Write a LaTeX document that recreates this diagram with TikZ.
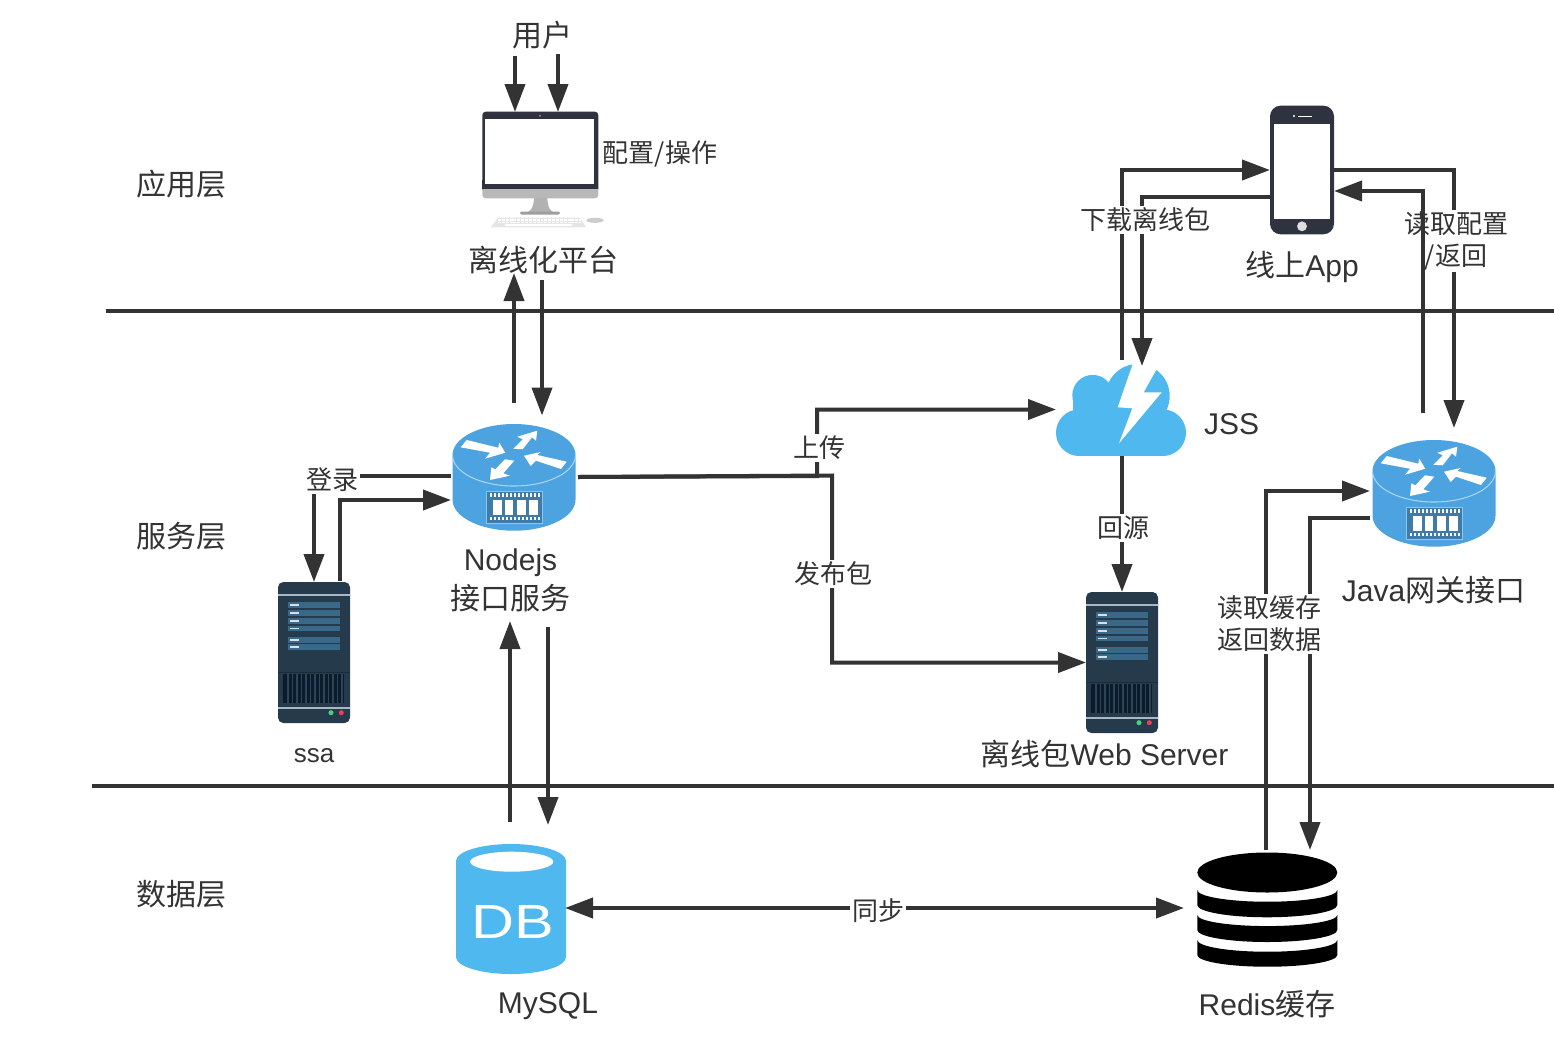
\documentclass[tikz,border=0pt]{standalone}
\usepackage{fontspec}
\setmainfont{Liberation Sans}
\newfontfamily\cjk{Noto Sans CJK SC}
\usetikzlibrary{arrows.meta}
\definecolor{ink}{HTML}{333333}
\definecolor{srvbody}{HTML}{253A4A}
\definecolor{srvbar}{HTML}{3A6888}
\definecolor{srvline}{HTML}{A9B8C6}
\definecolor{srvvent}{HTML}{0C1B2B}
\definecolor{srvgrill}{HTML}{2B4559}
\definecolor{routerblue}{HTML}{4DA3E0}
\definecolor{routerchip}{HTML}{3E7BA8}
\definecolor{routeredge}{HTML}{A8D5F2}
\definecolor{skyblue}{HTML}{4FB8EE}
\definecolor{devdark}{HTML}{2F3340}
\tikzset{
  x=0.75pt,y=-0.75pt,
  rulepath/.style={draw=ink,line width=3pt},
  conn/.style={draw=ink,line width=3pt,-{Triangle[length=21pt,width=15pt]}},
  connboth/.style={draw=ink,line width=3pt,{Triangle[length=21pt,width=15pt]}-{Triangle[length=21pt,width=15pt]}},
  bigtext/.style={text=ink,inner sep=0pt,align=center,font=\fontsize{22.5pt}{29pt}\selectfont},
  smalltext/.style={text=ink,inner sep=0pt,align=center,font=\fontsize{19.5pt}{24pt}\selectfont},
  edgetext/.style={smalltext,fill=white,inner sep=1.5pt},
  iconbox/.style n args={2}{inner sep=0pt,outer sep=0pt,minimum width=#1*0.75pt,minimum height=#2*0.75pt},
  pics/serverpic/.style={code={
    \fill[srvbody,rounded corners=4pt] (0,0) rectangle (72,141);
    \fill[srvline] (0,11.5) rectangle (72,13.5);
    \foreach \a/\b in {20/26,28/33.5,36/41.5,43.5/49,55/60.5,62/67.5}{
      \fill[srvbar] (10,\a) rectangle (62,\b);
      \fill[white!80!srvbar] (11.5,\a+2) rectangle (21,\a+3.8);
    }
    \fill[black!25!srvbody] (0,89.5) rectangle (72,91);
    \fill[srvvent] (5,92) rectangle (66,121);
    \foreach \g in {9,13.5,...,63}{\fill[srvgrill] (\g,92) rectangle (\g+1.6,121);}
    \fill[srvline] (0,124.5) rectangle (72,126.5);
    \fill[green!45!teal!70!white] (53,130.7) circle[radius=1.9pt];
    \fill[red!55!purple!75!white] (63.3,130.7) circle[radius=1.9pt];
  }},
  pics/routerpic/.style={code={
    \fill[routerblue] (-61.5,0) -- (-61.5,44.7) arc[start angle=180,end angle=360,x radius=46.125pt,y radius=23.25pt] -- (61.5,0) -- cycle;
    \fill[routerblue] (0,0) ellipse[x radius=46.125pt,y radius=23.25pt];
    \draw[routeredge,line width=0.8pt] (-61.5,0) arc[start angle=180,end angle=360,x radius=46.125pt,y radius=23.25pt];
    \fill[white] (-53.3,-7.7) -- (-47.3,-15) -- (-15.7,-7.3) -- (-14.7,-12.3) -- (-8.7,-2.3) -- (-29,3.7) -- (-24,-2.3) -- cycle;
    \fill[white] (-0.7,-6.3) -- (8.7,-15.7) -- (3.3,-18.3) -- (23.3,-24.3) -- (22,-14.3) -- (18,-17.7) -- (8.7,-5.7) -- cycle;
    \fill[white] (52.7,6.7) -- (47,14) -- (22,5.7) -- (16.7,11) -- (10,0.7) -- (26.7,-3) -- (23.3,0) -- cycle;
    \fill[white] (-9,4.3) -- (-18.7,14.3) -- (-22.7,12.3) -- (-24,25) -- (-4,20.7) -- (-10.7,18.3) -- (0.3,5.7) -- cycle;
    \filldraw[fill=routerchip,draw=routeredge!70!routerblue,line width=0.6pt] (-27.3,36) rectangle (28.7,68.3);
    \foreach \a/\b in {-21.3/-12.3,-9.3/-0.7,2.7/11.7,15/23.7}{\fill[white] (\a,45) rectangle (\b,60);}
    \draw[white,line width=2.4pt,dash pattern=on 2pt off 1pt] (-24.5,40) -- (26,40);
    \draw[white,line width=2.4pt,dash pattern=on 2pt off 1pt] (-24.5,63.3) -- (26,63.3);
  }}
}
\begin{document}
\begin{tikzpicture}
\useasboundingbox (0,0) rectangle (1554,1036);
% layer rules
\draw[rulepath] (106,311) -- (1554,311);
\draw[rulepath] (92,785.5) -- (1554,785.5);
% monitor
\fill[devdark,rounded corners=2.5pt] (482.3,111.7) rectangle (598.3,192);
\fill[black!28,rounded corners=2.5pt] (482.3,186) rectangle (598.3,198.3);
\fill[devdark] (482.3,180) rectangle (598.3,189);
\fill[white] (485.3,119) rectangle (593.7,184.3);
\fill[black!45] (540,115.7) circle[radius=0.8pt];
\fill[black!30] (534,198) -- (547.3,198) .. controls (547.5,205) and (549,210) .. (553,212) -- (528,212) .. controls (532,210) and (533.8,205) .. cycle;
\fill[black!38,rounded corners=1pt] (520,211.5) rectangle (560,214.5);
\fill[black!10] (498.3,217.7) -- (580,217.7) -- (586,227.3) -- (490.7,227.3) -- cycle;
\foreach \r in {219.7,222.3}{\draw[white,line width=1.2pt,dash pattern=on 2.2pt off 0.7pt] (498,\r) -- (581,\r);}
\draw[white,line width=1.2pt] (505,225) -- (572,225);
\fill[black!20] (595,220.3) ellipse[x radius=6.5pt,y radius=1.9pt];
% phone
\fill[devdark,rounded corners=8pt] (1270,105.7) rectangle (1334,234.3);
\fill[white] (1274,124) rectangle (1330,219);
\fill[white] (1294,116) circle[radius=0.9pt];
\draw[white,line width=0.6pt] (1298.3,116) -- (1311.7,116);
\fill[black!13] (1302,226.3) circle[radius=3.7pt];
% routers
\pic at (514,455) {routerpic};
\pic at (1434,471) {routerpic};
% cloud
\begin{scope}[skyblue]
\fill (1092.7,395.3) circle[radius=15.3pt];
\fill (1137.7,396) circle[radius=24pt];
\fill (1079.3,432.7) circle[radius=17.5pt];
\fill (1162.7,432.7) circle[radius=17.5pt];
\fill (1079.3,405) rectangle (1162.7,456);
\fill (1072.5,396) rectangle (1100,425);
\end{scope}
\fill[white] (1132.7,364) -- (1117.7,407.3) -- (1132.3,408.3) -- (1119,443.3) -- (1161.7,392.3) -- (1143.7,392.3) -- (1156.7,369) -- (1150,358) -- (1134,358) -- cycle;
% servers
\pic at (278,582) {serverpic};
\pic at (1086,592) {serverpic};
% database
\fill[skyblue] (456,861) -- (456,957) arc[start angle=180,end angle=360,x radius=41.25pt,y radius=12.75pt] -- (566,861) -- cycle;
\fill[skyblue] (511,861) ellipse[x radius=41.25pt,y radius=12.75pt];
\fill[white] (511.7,861.7) ellipse[x radius=31.2pt,y radius=7.5pt];
\node[text=white,inner sep=0pt,font=\fontsize{36pt}{36pt}\selectfont,xscale=1.24] (dbword) at (512.5,922) {DB};
% redis stack
\fill[black] (1267.3,872.5) ellipse[x radius=52.5pt,y radius=15pt];
\foreach \t/\d/\b/\e in {890/8.8/905/9.2,915/8.3/930/9,940/8.8/955/8.8}{
  \fill[black] (1197.3,\t) arc[start angle=180,end angle=360,x radius=52.5pt,y radius=\d pt] -- (1337.3,\b) arc[start angle=0,end angle=-180,x radius=52.5pt,y radius=\e pt] -- cycle;
}
% named boxes for the icons
\node[iconbox={116}{87}] (mon) at (540.3,155.5) {};
\node[iconbox={64}{128.6}] (phone) at (1302,170) {};
\node[iconbox={126}{107}] (rt) at (514,477.5) {};
\node[iconbox={126}{107}] (gw) at (1434,493) {};
\node[iconbox={130}{93}] (jss) at (1121,409.5) {};
\node[iconbox={72}{141}] (ssa) at (314,652.5) {};
\node[iconbox={72}{141}] (web) at (1122,662.5) {};
\node[iconbox={110}{128}] (db) at (510,908) {};
\node[iconbox={140}{114}] (rd) at (1267.3,909.7) {};
% free ends and bends
\coordinate (ua) at (515,56);
\coordinate (ub) at (558,54);
\coordinate (pfup) at (514,273);
\coordinate (pfdown) at (542,280);
\coordinate (rtup) at (514,403);
\coordinate (rtdown) at (542,415.5);
\coordinate (rta) at (451,476);
\coordinate (rtb) at (451,500);
\coordinate (ssab) at (340,581);
\coordinate (rtc) at (578,477);
\coordinate (upbend) at (817,476);
\coordinate (pubbend) at (832,475.5);
\coordinate (jssa) at (1122,360);
\coordinate (jssb) at (1142,366);
\coordinate (phb) at (1270,196.5);
\coordinate (phc) at (1334,191);
\coordinate (gwa) at (1454,428);
\coordinate (gwb) at (1423,413);
\coordinate (gwc) at (1370,491);
\coordinate (gwd) at (1370,518);
\coordinate (rda) at (1266,850);
\coordinate (rdb) at (1310,850);
\coordinate (rdc) at (1184,908);
\coordinate (dba) at (510,822);
\coordinate (dbb) at (548,825);
\coordinate (nja) at (510,621);
\coordinate (njb) at (548,627);
% connectors
\draw[conn] (ua) -- (ua |- mon.north);
\draw[conn] (ub) -- (ub |- mon.north);
\draw[conn] (rtup) -- (pfup);
\draw[conn] (pfdown) -- (rtdown);
\draw[conn] (rta) -| (ssa.north);
\draw[conn] (ssab) |- (rtb);
\draw[conn] (rtc) -- (upbend) |- (jss.west);
\draw[conn] (rtc) -- (pubbend) |- (web.west);
\draw[conn] (web.north |- jss.south) -- (web.north);
\draw[conn] (jssa) |- (phone.west);
\draw[conn] (phb) -| (jssb);
\draw[conn] (phone.east) -| (gwa);
\draw[conn] (rda) |- (gwc);
\draw[conn] (gwd) -| (rdb);
\draw[conn] (dba) -- (nja);
\draw[conn] (njb) -- (dbb);
\draw[connboth] (db.east) -- (rdc);
% plain labels
\node[bigtext] (tuser) at (542,35) {\cjk 用户};
\node[bigtext] (tapp) at (181,184) {\cjk 应用层};
\node[bigtext] (tsvc) at (181,536) {\cjk 服务层};
\node[bigtext] (tdata) at (181,894) {\cjk 数据层};
\node[bigtext] (tplat) at (543,260) {\cjk 离线化平台};
\node[bigtext] (tphone) at (1302,267) {{\cjk 线上}App};
\node[bigtext] (tnode) at (510.5,580.5) {Nodejs\\{\cjk 接口服务}};
\node[bigtext] (tjss) at (1231.5,424) {JSS};
\node[bigtext] (tgw) at (1433.5,590) {Java{\cjk 网关接口}};
\node[bigtext] (tweb) at (1104.5,754) {{\cjk 离线包}Web Server};
\node[bigtext] (tmy) at (548,1006) {MySQL};
\node[bigtext] (tredis) at (1267,1004) {Redis{\cjk 缓存}};
\node[smalltext] (tssa) at (314,756) {ssa};
\node[smalltext] (tcfg) at (660,154) {\cjk 配置/操作};
% connector labels
\node[edgetext] (elogin) at (332,480) {\cjk 登录};
\node[edgetext] (eup) at (819,448) {\cjk 上传};
\node[edgetext] (epub) at (833,574) {\cjk 发布包};
\node[edgetext] (eback) at (1123,528) {\cjk 回源};
\node[edgetext] (edl) at (1145,220) {\cjk 下载离线包};
\node[edgetext] (eread) at (1456,241) {\cjk 读取配置\\\cjk /返回};
\node[edgetext] (ecache) at (1269,623.5) {\cjk 读取缓存\\\cjk 返回数据};
\node[edgetext] (esync) at (878,911) {\cjk 同步};
% this one runs over its neighbouring label in the reference
\draw[conn] (gwb) |- (phc);
\end{tikzpicture}
\end{document}
